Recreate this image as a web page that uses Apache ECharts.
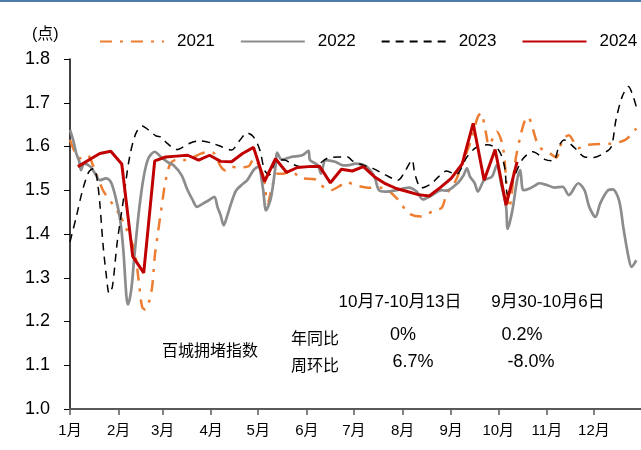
<!DOCTYPE html>
<html>
<head>
<meta charset="utf-8">
<script src="https://cdn.jsdelivr.net/npm/echarts@6/dist/echarts.min.js"></script>
<style>
  html, body { margin: 0; padding: 0; background: #fff; }
  #main { width: 641px; height: 450px; }
</style>
</head>
<body>
<div id="main"></div>
<script>
// x = day of year (0 = 1月1日), y = 百城拥堵指数
const s2021 = [[0,1.615],[3,1.588],[6,1.573],[11,1.580],[15,1.554],[21,1.500],[26,1.474],[30,1.454],[35,1.420],[41,1.363],[44,1.287],[46,1.233],[48,1.227],[52,1.271],[54,1.348],[56,1.401],[59,1.477],[61,1.523],[64,1.561],[68,1.570],[73,1.569],[79,1.576],[83,1.583],[89,1.588],[92,1.584],[96,1.555],[99,1.546],[102,1.554],[107,1.552],[114,1.555],[117,1.572],[123,1.535],[126,1.470],[129,1.510],[132,1.538],[136,1.538],[141,1.544],[147,1.528],[156,1.525],[159,1.514],[166,1.500],[173,1.512],[177,1.519],[180,1.514],[190,1.506],[199,1.506],[209,1.479],[216,1.447],[224,1.440],[232,1.454],[237,1.460],[240,1.490],[246,1.523],[251,1.570],[255,1.607],[260,1.668],[262,1.676],[265,1.634],[267,1.603],[270,1.622],[272,1.634],[276,1.599],[280,1.460],[284,1.569],[287,1.622],[290,1.660],[292,1.668],[295,1.640],[299,1.600],[306,1.584],[310,1.575],[314,1.615],[318,1.626],[324,1.596],[328,1.603],[334,1.605],[345,1.607],[354,1.615],[361,1.641]];

const s2022 = [[0,1.638],[2,1.615],[4,1.584],[6,1.565],[7,1.546],[9,1.561],[13,1.554],[16,1.538],[19,1.523],[23,1.527],[26,1.519],[29,1.485],[32,1.432],[34,1.363],[36,1.256],[37,1.239],[39,1.271],[41,1.348],[44,1.454],[47,1.531],[50,1.573],[54,1.588],[58,1.576],[62,1.565],[66,1.557],[71,1.535],[75,1.500],[78,1.479],[81,1.462],[85,1.470],[88,1.476],[92,1.485],[94,1.462],[96,1.443],[98,1.420],[100,1.439],[103,1.473],[106,1.500],[110,1.514],[113,1.523],[117,1.546],[120,1.554],[123,1.504],[125,1.454],[128,1.481],[131,1.554],[132,1.586],[135,1.570],[141,1.576],[148,1.580],[152,1.590],[153,1.569],[158,1.557],[160,1.538],[163,1.569],[169,1.565],[174,1.557],[177,1.557],[182,1.561],[189,1.554],[194,1.531],[197,1.500],[201,1.497],[208,1.500],[216,1.506],[221,1.497],[225,1.479],[230,1.487],[237,1.500],[240,1.499],[247,1.516],[251,1.535],[253,1.550],[255,1.531],[258,1.516],[260,1.497],[264,1.523],[269,1.531],[272,1.557],[275,1.512],[278,1.462],[279,1.412],[282,1.454],[285,1.523],[287,1.546],[289,1.500],[293,1.504],[297,1.512],[299,1.516],[304,1.512],[309,1.506],[314,1.508],[318,1.489],[324,1.516],[328,1.500],[331,1.462],[335,1.439],[338,1.470],[343,1.500],[346,1.502],[350,1.477],[353,1.409],[356,1.348],[358,1.325],[361,1.340]];

const s2023 = [[0,1.382],[4,1.439],[8,1.500],[12,1.542],[15,1.550],[17,1.531],[19,1.470],[21,1.378],[23,1.310],[25,1.264],[27,1.279],[30,1.378],[34,1.477],[38,1.576],[42,1.630],[46,1.647],[50,1.638],[55,1.624],[58,1.622],[62,1.607],[68,1.593],[76,1.607],[83,1.613],[91,1.607],[97,1.599],[103,1.592],[108,1.613],[113,1.631],[117,1.622],[121,1.592],[124,1.546],[127,1.535],[132,1.570],[137,1.569],[141,1.561],[147,1.554],[156,1.555],[164,1.573],[171,1.576],[177,1.576],[180,1.567],[187,1.557],[193,1.550],[201,1.535],[209,1.523],[214,1.546],[218,1.569],[220,1.535],[224,1.505],[230,1.514],[235,1.531],[240,1.544],[246,1.536],[253,1.576],[259,1.598],[266,1.604],[273,1.593],[277,1.554],[279,1.490],[284,1.538],[289,1.573],[295,1.588],[303,1.570],[308,1.567],[312,1.603],[315,1.615],[322,1.596],[328,1.576],[334,1.575],[340,1.584],[345,1.599],[348,1.660],[352,1.714],[356,1.737],[359,1.714],[361,1.691]];

const s2024 = [[5,1.554],[12,1.569],[19,1.584],[26,1.589],[33,1.560],[40,1.349],[47,1.311],[54,1.567],[61,1.576],[68,1.578],[75,1.580],[82,1.569],[89,1.580],[96,1.566],[103,1.565],[110,1.584],[117,1.598],[124,1.520],[131,1.572],[138,1.541],[145,1.552],[152,1.554],[159,1.555],[166,1.517],[173,1.548],[180,1.544],[187,1.554],[194,1.531],[201,1.515],[208,1.504],[215,1.497],[222,1.490],[229,1.487],[236,1.506],[243,1.527],[250,1.560],[257,1.653],[264,1.523],[271,1.593],[278,1.466],[285,1.565]];

const monthStarts = [0, 31, 59, 90, 120, 151, 181, 212, 243, 273, 304, 334];
const monthLabels = ['1月','2月','3月','4月','5月','6月','7月','8月','9月','10月','11月','12月'];

const FONT = 'Arial, "Liberation Sans", "Noto Sans CJK SC", sans-serif';

const myChart = echarts.init(document.getElementById('main'));

const chartOpts = {
  animation: false,
  title: {
    text: '(点)',
    left: 27,
    top: 22,
    textStyle: { fontSize: 16, fontWeight: 'normal', color: '#000', fontFamily: FONT }
  },
  legend: {
    left: 94,
    top: 28,
    width: 800,
    itemWidth: 64,
    itemHeight: 14,
    itemGap: 25,
    itemStyle: { opacity: 0 },
    textStyle: { fontSize: 17, color: '#000', fontFamily: FONT, padding: [0, 0, 0, 8] },
    data: ['2021', '2022', '2023', '2024']
  },
  grid: { left: 70, top: 59, bottom: 41, right: -4, containLabel: false },
  xAxis: {
    type: 'value',
    min: 0,
    max: 364,
    splitLine: { show: false },
    axisLine: { lineStyle: { color: '#595959', width: 2 } },
    axisTick: { show: true, length: 6, customValues: monthStarts, lineStyle: { color: '#595959', width: 1.5 } },
    axisLabel: {
      customValues: monthStarts,
      margin: 14,
      fontSize: 15,
      color: '#000',
      fontFamily: FONT,
      formatter: v => monthLabels[monthStarts.indexOf(v)]
    }
  },
  yAxis: {
    type: 'value',
    min: 1.0,
    max: 1.8,
    interval: 0.1,
    splitLine: { show: false },
    axisLine: { show: true, lineStyle: { color: '#000', width: 1.5 } },
    axisTick: { show: true, length: 6, lineStyle: { color: '#000' } },
    axisLabel: {
      margin: 20,
      fontSize: 18,
      color: '#000',
      fontFamily: FONT,
      formatter: v => v.toFixed(1)
    }
  },
  series: [
    {
      name: '2021', type: 'line', data: s2021, symbol: 'none', smooth: 0.3,
      lineStyle: { color: '#ED7D31', width: 2.5, type: [12, 8, 3, 8] },
      itemStyle: { color: '#ED7D31' }
    },
    {
      name: '2022', type: 'line', data: s2022, symbol: 'none', smooth: 0.3,
      lineStyle: { color: '#8C8C8C', width: 2.7 },
      itemStyle: { color: '#8C8C8C' }
    },
    {
      name: '2023', type: 'line', data: s2023, symbol: 'none', smooth: 0.3,
      lineStyle: { color: '#000', width: 1.5, type: [8, 6] },
      itemStyle: { color: '#000' }
    },
    {
      name: '2024', type: 'line', data: s2024, symbol: 'none',
      lineStyle: { color: '#C00000', width: 3 },
      itemStyle: { color: '#C00000' }
    }
  ],
  graphic: [
    { type: 'rect', left: 0, top: 0, shape: { width: 641, height: 2 }, style: { fill: '#4F7BA8' } },
    { type: 'text', style: { text: '10月7-10月13日', x: 400, y: 302, textAlign: 'center', textVerticalAlign: 'middle', font: '17px ' + FONT, fill: '#000' } },
    { type: 'text', style: { text: '9月30-10月6日', x: 548, y: 302, textAlign: 'center', textVerticalAlign: 'middle', font: '17px ' + FONT, fill: '#000' } },
    { type: 'text', style: { text: '百城拥堵指数', x: 210, y: 350, textAlign: 'center', textVerticalAlign: 'middle', font: '16px "Noto Sans CJK SC"', fill: '#000' } },
    { type: 'text', style: { text: '年同比', x: 315, y: 338, textAlign: 'center', textVerticalAlign: 'middle', font: '16px "Noto Sans CJK SC"', fill: '#000' } },
    { type: 'text', style: { text: '周环比', x: 315, y: 365, textAlign: 'center', textVerticalAlign: 'middle', font: '16px "Noto Sans CJK SC"', fill: '#000' } },
    { type: 'text', style: { text: '0%', x: 403, y: 335, textAlign: 'center', textVerticalAlign: 'middle', font: '18px ' + FONT, fill: '#000' } },
    { type: 'text', style: { text: '0.2%', x: 522, y: 335, textAlign: 'center', textVerticalAlign: 'middle', font: '18px ' + FONT, fill: '#000' } },
    { type: 'text', style: { text: '6.7%', x: 413, y: 362, textAlign: 'center', textVerticalAlign: 'middle', font: '18px ' + FONT, fill: '#000' } },
    { type: 'text', style: { text: '-8.0%', x: 531, y: 362, textAlign: 'center', textVerticalAlign: 'middle', font: '18px ' + FONT, fill: '#000' } }
  ]
};
myChart.setOption(chartOpts);
</script>
</body>
</html>
